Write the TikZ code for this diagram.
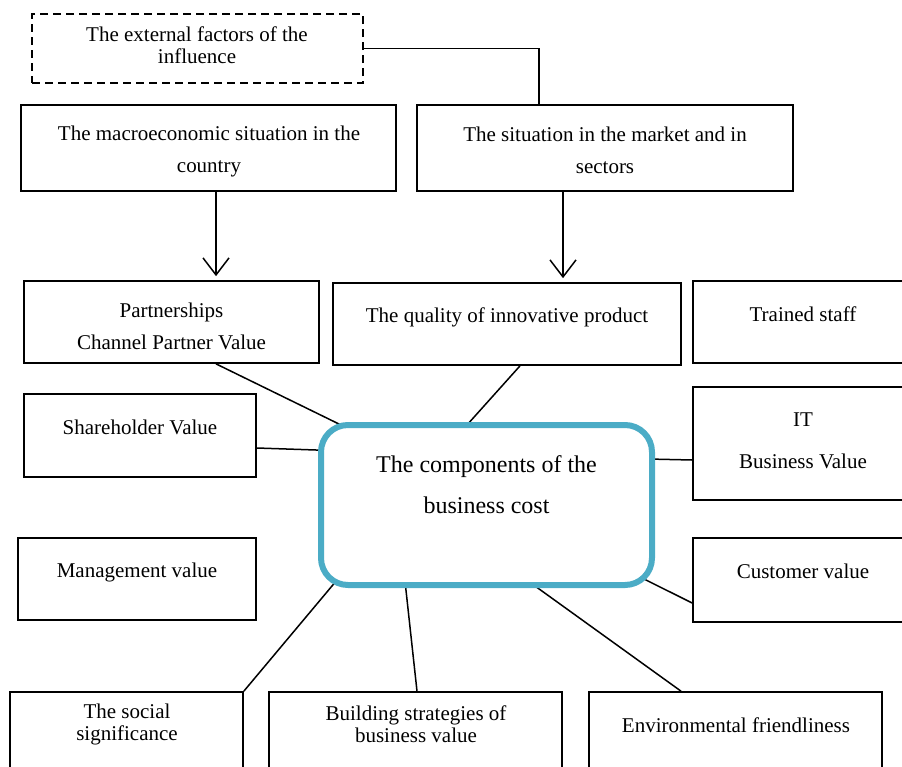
\documentclass[tikz,border=0pt]{standalone}
\usepackage{fontspec}
\setmainfont{Liberation Serif}
\usetikzlibrary{arrows.meta,backgrounds}
\definecolor{tealbox}{RGB}{75,172,198}
\begin{document}
\begin{tikzpicture}[x=1pt,y=-1pt,
  box/.style={draw,line width=1.7pt,fill=white,inner sep=0pt},
  dbox/.style={draw,line width=1.4pt,dash pattern=on 8pt off 5pt,fill=white,inner sep=0pt},
  cbox/.style={draw=tealbox,line width=6pt,rounded corners=27pt,fill=white,inner sep=0pt,
    minimum width=331pt,minimum height=160pt},
  txt/.style={inner sep=0pt,align=center,font=\fontsize{21}{22}\selectfont},
  txtw/.style={inner sep=0pt,align=center,font=\fontsize{21}{32}\selectfont},
  txtit/.style={inner sep=0pt,align=center,font=\fontsize{21}{42}\selectfont},
  txtc/.style={inner sep=0pt,align=center,font=\fontsize{24}{41}\selectfont},
  conn/.style={line width=1.5pt},
  arr/.style={line width=1.5pt,-{Straight Barb[length=17pt,width=26pt]}}]
\useasboundingbox (0,0) rectangle (902,766);
\clip (0,0) rectangle (902,766);

% boxes
\node[dbox,minimum width=331pt,minimum height=69pt] (ext) at (197.5,48.5) {};
\node[box,minimum width=375pt,minimum height=86pt] (macro) at (208.5,148) {};
\node[box,minimum width=376pt,minimum height=86pt] (market) at (605,148) {};
\node[box,minimum width=295pt,minimum height=82pt] (part) at (171.5,322) {};
\node[box,minimum width=348pt,minimum height=82pt] (qual) at (507,324) {};
\node[box,minimum width=220pt,minimum height=82pt] (staff) at (803,322) {};
\node[box,minimum width=232pt,minimum height=83pt] (share) at (140,435.5) {};
\node[box,minimum width=220pt,minimum height=113pt] (it) at (803,443.5) {};
\node[cbox] (cen) at (486.5,505) {};
\node[box,minimum width=238pt,minimum height=82pt] (mgmt) at (137,579) {};
\node[box,minimum width=220pt,minimum height=84pt] (cust) at (803,580) {};
\node[box,minimum width=233pt,minimum height=90pt] (social) at (126.5,737) {};
\node[box,minimum width=293pt,minimum height=90pt] (build) at (415.5,737) {};
\node[box,minimum width=293pt,minimum height=90pt] (env) at (735.5,737) {};

% texts
\node[txt] (t-ext) at (197,45) {The external factors of the\\influence};
\node[txtw] (t-macro) at (209,151) {The macroeconomic situation in the\\country};
\node[txtw] (t-market) at (605,150) {The situation in the market and in\\sectors};
\node[txtw] (t-part) at (171.5,326) {Partnerships\\Channel Partner Value};
\node[txt] (t-qual) at (507,317) {The quality of innovative product};
\node[txt] (t-staff) at (803,314) {Trained staff};
\node[txt] (t-share) at (140,427) {Shareholder Value};
\node[txtit] (t-it) at (803,441) {IT\\Business Value};
\node[txtc] (t-cen) at (486.5,485) {The components of the\\business cost};
\node[txt] (t-mgmt) at (137,572) {Management value};
\node[txt] (t-cust) at (803,571) {Customer value};
\node[txt] (t-social) at (127,724) {The social\\significance};
\node[txt] (t-build) at (416,724) {Building strategies of\\business value};
\node[txt] (t-env) at (736,725) {Environmental friendliness};

% connectors
\begin{scope}[on background layer]
\draw[conn] (ext.east) -| ([xshift=-66pt]market.north);
\draw[arr] ([xshift=7.5pt]macro.south) -- ([xshift=44.5pt,yshift=4pt]part.north);
\draw[arr] ([xshift=-42pt]market.south) -- ([xshift=56pt,yshift=4pt]qual.north);
\draw[conn] ([xshift=44.5pt]part.south) -- ([xshift=-141.8pt,yshift=78.2pt]cen.center);
\draw[conn] ([xshift=13pt]qual.south) -- ([xshift=-21.7pt,yshift=77.6pt]cen.center);
\draw[conn] ([yshift=-12.5pt]share.east) -- ([xshift=-161.5pt,yshift=54.7pt]cen.center);
\draw[conn] ([xshift=161.5pt,yshift=46pt]cen.center) -- ([yshift=-16.5pt]it.west);
\draw[conn] ([xshift=153.5pt,yshift=-72pt]cen.center) -- ([yshift=-23pt]cust.west);
\draw[conn] ([xshift=-149.5pt,yshift=-75pt]cen.center) -- (social.north east);
\draw[conn] ([xshift=-81.2pt,yshift=-79pt]cen.center) -- ([xshift=1.5pt]build.north);
\draw[conn] ([xshift=48.5pt,yshift=-81pt]cen.center) -- ([xshift=-54.5pt]env.north);
\end{scope}
\end{tikzpicture}
\end{document}
